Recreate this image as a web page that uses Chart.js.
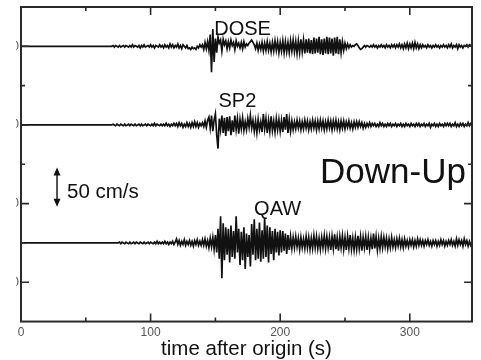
<!DOCTYPE html>
<html>
<head>
<meta charset="utf-8">
<script src="https://cdn.jsdelivr.net/npm/chart.js@4/dist/chart.umd.min.js"></script>
<style>
  body { margin: 0; background: #fff; }
  canvas { display: block; }
</style>
</head>
<body>
<canvas id="seis" width="481" height="360"></canvas>
<script>
// sample times: first sample at 70 s, one sample per second (0..70 s is flat)
var START = 70;
var DT = 1;

// trace baselines (cm/s on the plot's y axis)
var offsets = { DOSE: 350, SP2: 250, QAW: 100 };

// velocities, cm/s, t = 70..348 s
var dose = [
  0,1,-1,1,0,-1,1,-1,0,1,
  -1,1,0,-1,1,-1,2,-1,1,0,
  -1,1,-2,1,-1,2,-1,0,1,-1,
  2,-1,1,-2,1,0,-1,2,-1,1,
  -2,2,-1,1,-2,3,-1,2,-2,1,
  -1,3,-2,1,-3,2,0,-2,1,-3,
  -2,-4,-1,-3,-2,-4,0,-2,2,-1,
  2,-4,5,-3,6,-5,15,-33,22,-20,
  10,-8,12,4,8,-6,9,2,7,-3,
  6,-2,8,1,5,-4,7,0,4,-2,
  5,-3,6,-1,3,1,4,6,8,5,
  2,-3,4,-5,3,-4,5,-6,4,-5,
  6,-5,4,-7,5,-6,7,-5,6,-8,
  5,-6,7,-8,6,-7,5,-8,7,-6,
  8,-7,6,-9,7,-8,9,-7,8,-9,
  9,-8,10,-9,8,-10,11,-9,10,-8,
  12,-10,9,-11,10,-9,12,-10,11,-9,
  10,-12,11,-9,12,-10,9,-8,6,-5,
  4,-3,3,-2,2,-1,1,0,2,3,
  1,-2,-4,-3,-1,1,-1,1,0,-1,
  1,-1,2,-1,1,-2,1,-1,2,-1,
  1,-2,2,-1,1,-2,2,-1,2,-2,
  2,-1,3,-2,2,-3,3,-2,4,-3,
  3,-2,4,-3,5,-2,3,-3,2,-2,
  2,-1,1,-2,2,-1,1,-2,1,-1,
  2,-1,1,-2,1,-1,2,-1,1,-2,
  2,-1,3,-2,1,-1,2,-3,2,-1,
  1,-2,1,0,2,-1,2,1,0
];

var sp2 = [
  0,1,0,-1,1,0,-1,1,0,-1,
  1,-1,0,1,-1,1,0,-1,1,-1,
  0,1,-1,1,-1,0,1,-1,1,0,
  -1,1,-1,2,-1,1,0,-1,1,-1,
  1,-1,2,-1,1,-2,1,-1,2,-1,
  2,-2,3,-1,2,-3,1,-2,3,-2,
  2,-3,3,-2,4,-2,3,-3,2,-1,
  3,-2,5,-3,6,10,-4,12,-8,6,
  14,-12,-30,8,-6,12,-10,9,-14,10,
  -8,11,-13,6,-9,12,-6,8,-11,7,
  -5,9,-7,4,-6,8,-3,12,-4,6,
  -8,5,-10,7,-6,4,-9,14,-5,8,
  -10,6,-8,11,-7,5,-9,8,-6,7,
  -8,6,-9,10,-6,14,-10,7,-8,5,
  -6,4,-5,6,-4,5,-6,4,-5,6,
  -4,5,-6,4,-5,6,-4,5,-6,5,
  -5,6,-4,5,-6,4,-5,6,-4,5,
  -6,5,-4,6,-5,4,-6,5,-4,5,
  -5,4,-3,5,-4,3,-5,4,-3,4,
  -3,4,-2,3,-4,2,-3,2,-2,3,
  -2,2,-1,2,-2,1,-2,3,-1,2,
  -2,1,-2,2,-1,2,-2,1,-1,2,
  -2,1,-1,2,-2,1,-2,2,-1,1,
  -2,2,-1,1,-2,2,-1,2,-2,1,
  -1,2,-2,1,-1,2,-3,1,-1,2,
  -2,1,-2,2,-1,1,-2,2,-1,2,
  -1,2,-2,1,-1,3,-2,1,-2,2,
  -1,2,-2,1,-1,3,-1,2,0
];

var qaw = [
  0,0,0,0,0,0,1,-1,1,0,
  -1,1,0,-1,1,-1,0,1,-1,1,
  0,-1,1,0,-1,1,-1,0,1,-1,
  1,0,-1,1,-1,2,-1,1,-1,1,
  -1,2,-1,1,-2,1,-1,2,-2,1,
  5,-2,3,-3,2,-2,4,-3,2,-2,
  3,-3,2,-4,3,-2,4,-3,2,-3,
  4,-3,5,-4,3,-6,6,-5,7,-8,
  10,-12,18,-20,34,-45,25,-22,20,-15,
  18,-25,22,-18,15,-20,34,-12,18,-28,
  14,-22,20,-33,12,-18,10,-30,24,-15,
  30,-22,18,-20,26,-24,16,-20,32,-18,
  22,-25,20,-14,15,-22,18,-12,14,-16,
  16,-12,15,-10,12,-14,10,-9,8,-7,
  7,-6,8,-5,6,-8,7,-6,5,-7,
  8,-6,7,-8,6,-7,9,-6,8,-7,
  6,-8,7,-6,9,-7,8,-6,7,-9,
  8,-7,11,-8,7,-10,8,-6,9,-8,
  7,-9,8,-7,10,-8,6,-9,7,-8,
  9,-7,8,-10,7,-6,8,-9,7,-8,
  6,-8,12,-7,8,-9,6,-7,8,-6,
  7,-5,6,-7,5,-6,7,-5,4,-6,
  5,-4,6,-5,4,-6,5,-4,3,-5,
  4,-3,4,-5,3,-4,5,-3,4,-3,
  3,-4,3,-2,4,-3,2,-4,3,-2,
  3,-4,2,-3,4,-2,3,-4,2,-3,
  3,-2,4,-3,2,-4,5,-3,4,-2,
  3,-4,5,-2,3,-4,2,-3,1
];

var xTicksMajor = [0, 100, 200, 300];
var xTicksMinor = [50, 150, 250];
var yTicksMajor = [50, 150, 250, 350];
var yTicksMinor = [100, 200, 300];
var yTickLabels = ['50', '150', '250', '350'];

var FONT = '"Liberation Sans", Arial, sans-serif';

function toPoints(vals, base) {
  var pts = [{ x: 0, y: base }];
  for (var i = 0; i < vals.length; i++) {
    pts.push({ x: START + i * DT, y: base + vals[i] });
  }
  return pts;
}

function traceSet(label, vals) {
  return {
    label: label,
    data: toPoints(vals, offsets[label]),
    borderColor: '#111',
    borderWidth: 1.7,
    pointRadius: 0,
    tension: 0,
    fill: false
  };
}

// frame, inward ticks, station names, scale bar
var decorations = {
  id: 'decorations',
  afterDraw: function (chart) {
    var ctx = chart.ctx;
    var a = chart.chartArea;
    var xs = chart.scales.x;
    var ys = chart.scales.y;
    ctx.save();

    ctx.strokeStyle = '#2a2a2a';
    ctx.lineWidth = 1.6;
    ctx.beginPath();
    function xt(v, len) {
      var px = xs.getPixelForValue(v);
      ctx.moveTo(px, a.bottom); ctx.lineTo(px, a.bottom - len);
      ctx.moveTo(px, a.top); ctx.lineTo(px, a.top + len);
    }
    function yt(v, len) {
      var py = ys.getPixelForValue(v);
      ctx.moveTo(a.left, py); ctx.lineTo(a.left + len, py);
      ctx.moveTo(a.right, py); ctx.lineTo(a.right - len, py);
    }
    xTicksMajor.forEach(function (v) { xt(v, 8); });
    xTicksMinor.forEach(function (v) { xt(v, 4); });
    yTicksMajor.forEach(function (v) { yt(v, 8); });
    yTicksMinor.forEach(function (v) { yt(v, 4); });
    ctx.stroke();

    ctx.lineWidth = 2;
    ctx.strokeRect(a.left, a.top, a.right - a.left, a.bottom - a.top);

    // y labels are cut off at the left edge of the figure
    ctx.save();
    ctx.beginPath();
    ctx.rect(16, 0, 4, chart.height);
    ctx.clip();
    ctx.fillStyle = '#555';
    ctx.font = '12px ' + FONT;
    ctx.textAlign = 'right';
    ctx.textBaseline = 'middle';
    yTicksMajor.forEach(function (v, i) {
      ctx.fillText(yTickLabels[i], 19, ys.getPixelForValue(v));
    });
    ctx.restore();

    ctx.fillStyle = '#111';
    ctx.textAlign = 'center';
    ctx.textBaseline = 'alphabetic';
    ctx.font = '20px ' + FONT;
    ctx.fillText('DOSE', xs.getPixelForValue(171), ys.getPixelForValue(364));
    ctx.fillText('SP2', xs.getPixelForValue(167), ys.getPixelForValue(273));
    ctx.fillText('QAW', xs.getPixelForValue(198), ys.getPixelForValue(136));

    ctx.font = '35px ' + FONT;
    ctx.fillText('Down-Up', 393, 183);

    ctx.font = '20.5px ' + FONT;
    ctx.textAlign = 'left';
    ctx.fillText('50 cm/s', 67, 198);

    // 50 cm/s scale bar
    var bx = xs.getPixelForValue(27.8);
    var y0 = ys.getPixelForValue(146);
    var y1 = ys.getPixelForValue(196);
    ctx.lineWidth = 1.6;
    ctx.beginPath();
    ctx.moveTo(bx, y0 - 6); ctx.lineTo(bx, y1 + 6);
    ctx.stroke();
    ctx.beginPath();
    ctx.moveTo(bx, y1); ctx.lineTo(bx - 3.5, y1 + 8); ctx.lineTo(bx + 3.5, y1 + 8); ctx.closePath();
    ctx.moveTo(bx, y0); ctx.lineTo(bx - 3.5, y0 - 8); ctx.lineTo(bx + 3.5, y0 - 8); ctx.closePath();
    ctx.fill();

    ctx.restore();
  }
};

new Chart(document.getElementById('seis'), {
  type: 'line',
  data: {
    datasets: [
      traceSet('DOSE', dose),
      traceSet('SP2', sp2),
      traceSet('QAW', qaw)
    ]
  },
  options: {
    responsive: false,
    devicePixelRatio: 1,
    animation: false,
    parsing: false,
    layout: { padding: { left: 21, right: 9, top: 7, bottom: 0 } },
    plugins: { legend: { display: false }, tooltip: { enabled: false } },
    scales: {
      x: {
        type: 'linear',
        min: 0,
        max: 348,
        grid: { display: false, drawTicks: false },
        border: { display: false },
        ticks: {
          stepSize: 100,
          includeBounds: false,
          padding: 4,
          color: '#555',
          font: { family: FONT, size: 12 }
        },
        title: {
          display: true,
          text: 'time after origin (s)',
          color: '#111',
          padding: { top: 0, bottom: 5.8 },
          font: { family: FONT, size: 20.5, lineHeight: 0.5 }
        }
      },
      y: {
        type: 'linear',
        display: false,
        min: 0,
        max: 400
      }
    }
  },
  plugins: [decorations]
});
</script>
</body>
</html>
